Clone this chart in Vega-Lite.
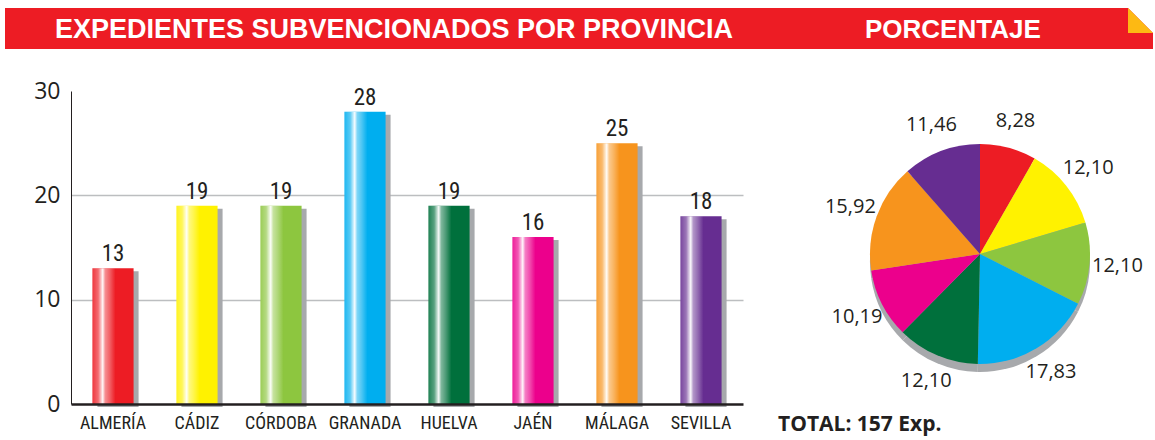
{
  "$schema": "https://vega.github.io/schema/vega-lite/v6.json",
  "background": "white",
  "padding": {"left": 5, "top": 8, "right": 0, "bottom": 5},
  "autosize": {"type": "pad"},
  "config": {
    "view": {"stroke": null},
    "locale": {"number": {"decimal": ",", "thousands": ".", "grouping": [3], "currency": ["", " €"]}}
  },
  "datasets": {
    "prov": [
      {"provincia": "ALMERÍA", "expedientes": 13, "porcentaje": 8.28},
      {"provincia": "CÁDIZ", "expedientes": 19, "porcentaje": 12.10},
      {"provincia": "CÓRDOBA", "expedientes": 19, "porcentaje": 12.10},
      {"provincia": "GRANADA", "expedientes": 28, "porcentaje": 17.83},
      {"provincia": "HUELVA", "expedientes": 19, "porcentaje": 12.10},
      {"provincia": "JAÉN", "expedientes": 16, "porcentaje": 10.19},
      {"provincia": "MÁLAGA", "expedientes": 25, "porcentaje": 15.92},
      {"provincia": "SEVILLA", "expedientes": 18, "porcentaje": 11.46}
    ]
  },
  "spacing": 31,
  "vconcat": [
    {
      "width": 1082,
      "height": 41,
      "data": {"values": [{}]},
      "layer": [
        {
          "mark": {"type": "rect", "color": "#ED1C24"},
          "encoding": {"x": {"value": -66}, "x2": {"value": 1082}, "y": {"value": 0}, "y2": {"value": 41}}
        },
        {
          "mark": {"type": "text", "text": "EXPEDIENTES SUBVENCIONADOS POR PROVINCIA", "color": "white", "font": "Liberation Sans", "fontSize": 27, "fontWeight": "bold", "align": "left", "baseline": "alphabetic"},
          "encoding": {"x": {"value": -16}, "y": {"value": 29.5}}
        },
        {
          "mark": {"type": "text", "text": "PORCENTAJE", "color": "white", "font": "Liberation Sans", "fontSize": 26, "fontWeight": "bold", "align": "left", "baseline": "alphabetic"},
          "encoding": {"x": {"value": 794}, "y": {"value": 29.5}}
        },
        {
          "mark": {"type": "point", "shape": "M-1,-1L1,-1L1,1Z", "filled": true, "color": "white", "opacity": 1, "size": 625, "strokeWidth": 0},
          "encoding": {"x": {"value": 1069.5}, "y": {"value": 12.5}}
        },
        {
          "mark": {"type": "point", "shape": "M-1,-1L-1,1L1,1Z", "filled": true, "color": "#FDB913", "opacity": 1, "size": 625, "strokeWidth": 0},
          "encoding": {"x": {"value": 1069.5}, "y": {"value": 12.5}}
        }
      ]
    },
    {
      "spacing": 35,
      "hconcat": [
        {
          "width": 672,
          "height": 313,
          "data": {"name": "prov"},
          "encoding": {
            "x": {
              "field": "provincia", "type": "nominal", "sort": null,
              "scale": {"paddingInner": 0.51, "paddingOuter": 0.255},
              "axis": {"title": null, "labelAngle": 0, "ticks": false, "labelPadding": 10, "labelFont": "Roboto Condensed, DejaVu Sans Condensed, Liberation Sans Narrow, Roboto, sans-serif", "labelFontSize": 18, "labelColor": "#231F20", "domainColor": "#231F20", "domainWidth": 2.5, "zindex": 1}
            },
            "y": {
              "field": "expedientes", "type": "quantitative",
              "scale": {"domain": [0, 30], "nice": false},
              "axis": {"title": null, "values": [0, 10, 20, 30], "ticks": false, "labelPadding": 11, "labelFont": "Open Sans", "labelFontSize": 23, "labelColor": "#231F20", "domainColor": "#231F20", "domainWidth": 1, "minExtent": 66, "maxExtent": 66, "grid": true, "gridColor": {"condition": {"test": "datum.value === 0 || datum.value === 30", "value": "transparent"}, "value": "#BCBEC0"}, "gridWidth": 1.5}
            }
          },
          "layer": [
            {"mark": {"type": "bar", "color": "#A7A9AC", "xOffset": 5, "yOffset": 3}},
            {
              "mark": {"type": "bar"},
              "encoding": {
                "color": {
                  "field": "provincia", "type": "nominal", "sort": null, "legend": null,
                  "scale": {"domain": ["ALMERÍA", "CÁDIZ", "CÓRDOBA", "GRANADA", "HUELVA", "JAÉN", "MÁLAGA", "SEVILLA"], "range": ["#ED1C24", "#FFF200", "#8DC63F", "#00AEEF", "#00703C", "#EC008C", "#F7941D", "#662D91"]}
                }
              }
            },
            {
              "mark": {
                "type": "bar",
                "color": {"gradient": "linear", "x1": 0, "x2": 1, "y1": 0, "y2": 0, "stops": [
                  {"offset": 0, "color": "rgba(255,255,255,0.12)"},
                  {"offset": 0.14, "color": "rgba(255,255,255,0.35)"},
                  {"offset": 0.25, "color": "rgba(255,255,255,0.97)"},
                  {"offset": 0.31, "color": "rgba(255,255,255,0.5)"},
                  {"offset": 0.42, "color": "rgba(255,255,255,0.3)"},
                  {"offset": 0.56, "color": "rgba(255,255,255,0)"},
                  {"offset": 1, "color": "rgba(255,255,255,0)"}
                ]}
              }
            },
            {
              "mark": {"type": "text", "baseline": "alphabetic", "dy": -7, "font": "Roboto Condensed, DejaVu Sans Condensed, Liberation Sans Narrow, Roboto, sans-serif", "fontSize": 23, "color": "#231F20"},
              "encoding": {"text": {"field": "expedientes", "type": "quantitative"}}
            }
          ]
        },
        {
          "width": 356,
          "height": 326,
          "data": {"name": "prov"},
          "title": {"text": "TOTAL: 157 Exp.", "orient": "bottom", "anchor": "start", "font": "Open Sans", "fontSize": 21, "fontWeight": "bold", "color": "#231F20", "offset": -3, "dx": -24},
          "encoding": {
            "theta": {"field": "porcentaje", "type": "quantitative", "stack": true},
            "order": {"field": "provincia", "type": "ordinal"}
          },
          "layer": [
            {"mark": {"type": "arc", "radius": 110, "color": "#A7A9AC", "yOffset": 8}},
            {
              "mark": {"type": "arc", "radius": 110},
              "encoding": {
                "color": {
                  "field": "provincia", "type": "nominal", "sort": null, "legend": null,
                  "scale": {"domain": ["ALMERÍA", "CÁDIZ", "CÓRDOBA", "GRANADA", "HUELVA", "JAÉN", "MÁLAGA", "SEVILLA"], "range": ["#ED1C24", "#FFF200", "#8DC63F", "#00AEEF", "#00703C", "#EC008C", "#F7941D", "#662D91"]}
                }
              }
            },
            {
              "mark": {"type": "text", "radius": 138, "font": "Open Sans", "fontSize": 20, "color": "#231F20"},
              "encoding": {"text": {"field": "porcentaje", "type": "quantitative", "format": ".2f"}}
            }
          ]
        }
      ]
    }
  ]
}
